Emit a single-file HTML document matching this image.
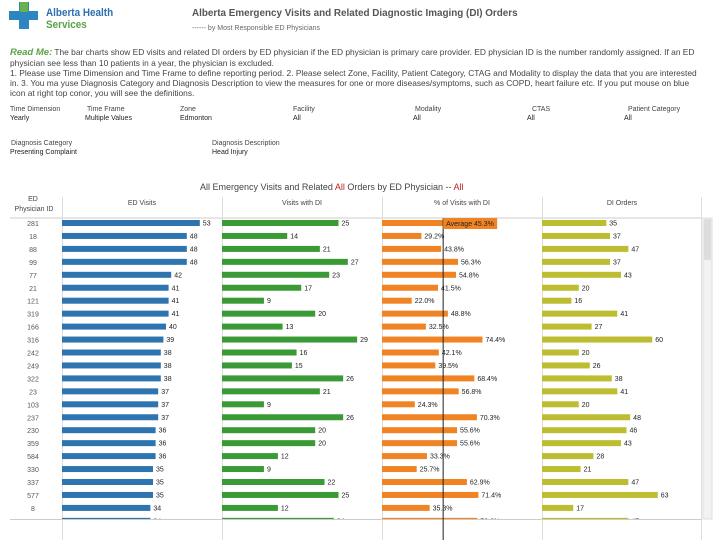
<!DOCTYPE html>
<html><head><meta charset="utf-8"><style>
body{margin:0;width:720px;height:540px;overflow:hidden;background:#fff;font-family:"Liberation Sans",sans-serif;position:relative}
.a{position:absolute;white-space:nowrap}
.fl{font-size:7px;color:#444}.fv{font-size:7px;color:#222}
</style></head><body>
<div>
<div class="a" style="left:19px;top:2px;width:10px;height:27px;background:#2e86c1"></div>
<div class="a" style="left:9px;top:11px;width:29px;height:9px;background:#2e86c1"></div>
<div class="a" style="left:20px;top:2px;width:8px;height:10px;background:#6ab04c"></div>
<div class="a" style="left:46px;top:7px;font-size:11px;font-weight:bold;color:#2e6fb0;transform:scaleX(0.9);transform-origin:left">Alberta Health</div>
<div class="a" style="left:46px;top:19px;font-size:11px;font-weight:bold;color:#5aa046;transform:scaleX(0.9);transform-origin:left">Services</div>
</div>
<div class="a" style="left:192px;top:7px;font-size:10.5px;font-weight:bold;color:#555;transform:scaleX(0.94);transform-origin:left">Alberta Emergency Visits and Related Diagnostic Imaging (DI) Orders</div>
<div class="a" style="left:192px;top:25px;font-size:7px;color:#666">------ by Most Responsible ED Physicians</div>
<div class="a" style="left:10px;top:47px;width:705px;overflow:hidden;font-size:8.4px;line-height:10px;color:#444"><span style="color:#5aa046;font-style:italic;font-weight:bold;font-size:9.5px">Read Me:</span> The bar charts show ED visits and related DI orders by ED physician if the ED physician is primary care provider. ED physician ID is the number randomly assigned. If an ED<br>physician see less than 10 patients in a year, the physician is excluded.<br>1. Please use Time Dimension and Time Frame to define reporting period. 2. Please select Zone, Facility, Patient Category, CTAG and Modality to display the data that you are interested<br>in. 3. You ma yuse Diagnosis Category and Diagnosis Description to view the measures for one or more diseases/symptoms, such as COPD, heart failure etc. If you put mouse on blue<br>icon at right top conor, you will see the definitions.</div>
<div>
<div class="a fl" style="left:10px;top:106px">Time Dimension</div><div class="a fv" style="left:10px;top:115px">Yearly</div>
<div class="a fl" style="left:87px;top:106px">Time Frame</div><div class="a fv" style="left:85px;top:115px">Multiple Values</div>
<div class="a fl" style="left:180px;top:106px">Zone</div><div class="a fv" style="left:180px;top:115px">Edmonton</div>
<div class="a fl" style="left:293px;top:106px">Facility</div><div class="a fv" style="left:293px;top:115px">All</div>
<div class="a fl" style="left:415px;top:106px">Modality</div><div class="a fv" style="left:413px;top:115px">All</div>
<div class="a fl" style="left:532px;top:106px">CTAS</div><div class="a fv" style="left:527px;top:115px">All</div>
<div class="a fl" style="left:628px;top:106px">Patient Category</div><div class="a fv" style="left:624px;top:115px">All</div>
<div class="a fl" style="left:11px;top:140px">Diagnosis Category</div><div class="a fv" style="left:10px;top:149px">Presenting Complaint</div>
<div class="a fl" style="left:212px;top:140px">Diagnosis Description</div><div class="a fv" style="left:212px;top:149px">Head Injury</div>
</div>
<div class="a" style="left:200px;top:182px;font-size:9px;color:#444">All Emergency Visits and Related <span style="color:#b22">All</span> Orders by ED Physician -- <span style="color:#b22">All</span></div>
<svg id="c" class="a" style="left:0;top:0" width="720" height="540"></svg>
<script>
const ids=["281","18","88","99","77","21","121","319","166","316","242","249","322","23","103","237","230","359","584","330","337","577","8","43"];
const edVisits=[53,48,48,48,42,41,41,41,40,39,38,38,38,37,37,37,36,36,36,35,35,35,34,34];
const visitsDI=[25,14,21,27,23,17,9,20,13,29,16,15,26,21,9,26,20,20,12,9,22,25,12,24];
const pctDI=[47.2,29.2,43.8,56.3,54.8,41.5,22.0,48.8,32.5,74.4,42.1,39.5,68.4,56.8,24.3,70.3,55.6,55.6,33.3,25.7,62.9,71.4,35.3,70.6];
const diOrders=[35,37,47,37,43,20,16,41,27,60,20,26,38,41,20,48,46,43,28,21,47,63,17,47];
const avgPct=45.3;
const svg=document.getElementById('c');const NS='http://www.w3.org/2000/svg';
function mk(t,a,p){const e=document.createElementNS(NS,t);for(const k in a)e.setAttribute(k,a[k]);(p||svg).appendChild(e);return e;}
const cols=[{x0:62,x1:222,k:2.6,d:edVisits,c:'#2e75b0',h:'ED Visits',f:v=>v,n:'ed-visits'},
{x0:222,x1:382,k:4.66,d:visitsDI,c:'#3a9a35',h:'Visits with DI',f:v=>v,n:'visits-with-di'},
{x0:382,x1:542,k:1.35,d:pctDI,c:'#f08424',h:'% of Visits with DI',f:v=>v.toFixed(1)+'%',n:'pct-visits-di'},
{x0:542,x1:702,k:1.837,d:diOrders,c:'#bcbd30',h:'DI Orders',f:v=>v,n:'di-orders'}];
const y=i=>223+i*12.95;
mk('line',{x1:10,x2:702,y1:218,y2:218,stroke:'#ccc'});
mk('line',{x1:10,x2:702,y1:519.5,y2:519.5,stroke:'#ccc'});
cols.forEach(c=>{mk('line',{x1:c.x0+.5,x2:c.x0+.5,y1:197,y2:540,stroke:'#ddd'});});
mk('line',{x1:701.5,x2:701.5,y1:197,y2:540,stroke:'#ddd'});
let t=mk('text',{x:33,y:201,'font-size':7,fill:'#444','text-anchor':'middle'});t.textContent='ED';
t=mk('text',{x:34,y:211,'font-size':7,fill:'#444','text-anchor':'middle'});t.textContent='Physician ID';
cols.forEach(c=>{const h=mk('text',{x:(c.x0+c.x1)/2,y:205,'font-size':7,fill:'#444','text-anchor':'middle'});h.textContent=c.h;

});
mk('rect',{x:703,y:218,width:9,height:301,fill:'#f2f2f2',stroke:'#ddd'});
mk('rect',{x:704,y:219,width:7,height:41,fill:'#ddd'});
const clip=mk('clipPath',{id:'cl'});mk('rect',{x:0,y:219,width:702,height:300},clip);
const body=mk('g',{'clip-path':'url(#cl)'});
ids.forEach((id,i)=>{const e=mk('text',{x:33,y:y(i)+3,'font-size':7,fill:'#555','text-anchor':'middle'},body);e.textContent=id;

});
cols.forEach(c=>{c.d.forEach((v,i)=>{const w=v*c.k;
const r=mk('rect',{x:c.x0,y:y(i)-3,width:w,height:6,fill:c.c},body);


const l=mk('text',{x:c.x0+w+3,y:y(i)+2.5,'font-size':7,fill:'#222'},body);l.textContent=c.f(v);

});});
const ax=382+avgPct*1.35;
const al=mk('line',{x1:ax,x2:ax,y1:218,y2:540,stroke:'#222','stroke-width':1});


mk('rect',{x:ax,y:218,width:54,height:11,fill:'#f08424'});
const at=mk('text',{x:ax+3,y:226,'font-size':7,fill:'#222'});at.textContent='Average '+avgPct.toFixed(1)+'%';


</script>
</body></html>
